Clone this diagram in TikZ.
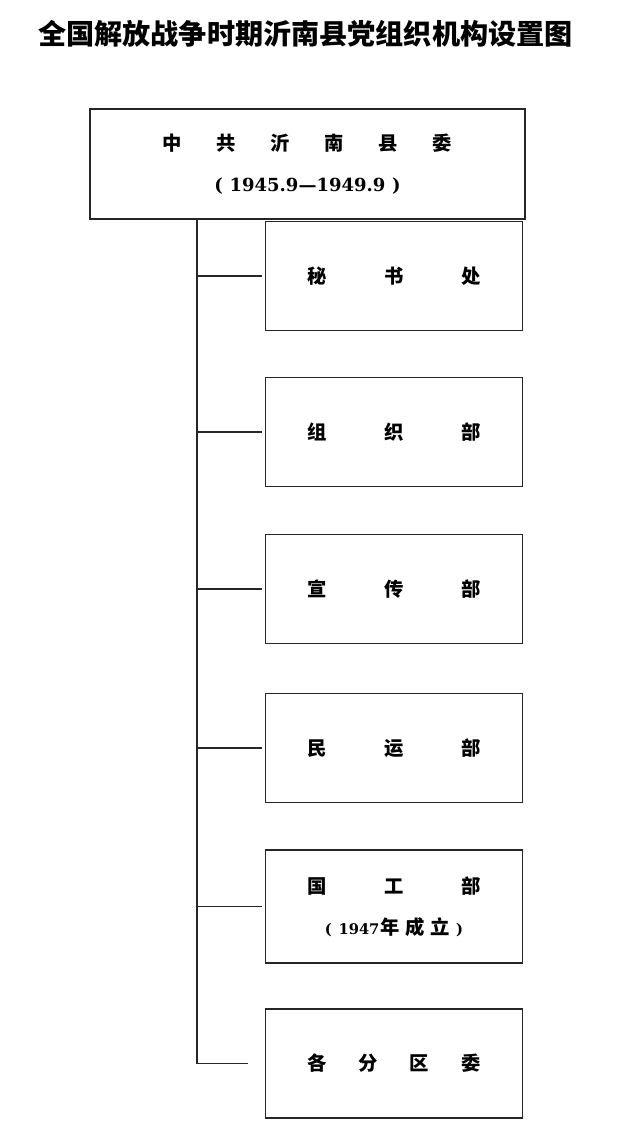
\documentclass[tikz,border=0pt]{standalone}
\usepackage{fontspec}
\setmainfont{DejaVu Serif}
\newfontfamily\cjk{Noto Sans CJK SC}
\usetikzlibrary{positioning}
\tikzset{
  unit/.style={draw=black!85, line width=0.9pt, rectangle, inner sep=0pt,
    minimum width=192.75pt, minimum height=81.75pt, align=center,
    font=\cjk\bfseries\fontsize{14.5}{17}\selectfont},
  topunit/.style={unit, minimum width=326.25pt, minimum height=82.5pt},
  heading/.style={font=\cjk\bfseries\fontsize{21.1}{25}\selectfont, inner sep=0pt},
  branch/.style={black!85, line width=0.8pt},
}
\newcommand{\numf}{\rmfamily\bfseries}
\begin{document}
\begin{tikzpicture}[x=0.75pt, y=-0.75pt]
  \useasboundingbox (0,0) rectangle (640,1141);
  \node[heading] (title) at (305.5,34) {全国解放战争时期沂南县党组织机构设置图};
  \node[topunit] (xianwei) at (307.5,164)
    {中\hspace{26pt}共\hspace{26pt}沂\hspace{26pt}南\hspace{26pt}县\hspace{26pt}委\\[14pt]
     {\numf\fontsize{13.5}{16}\selectfont (\hspace{5pt}1945.9—1949.9\hspace{5pt})}};
  \node[unit] (mishu) at (394,276) {秘\hspace{43pt}书\hspace{43pt}处};
  \node[unit] (zuzhi) at (394,432) {组\hspace{43pt}织\hspace{43pt}部};
  \node[unit] (xuanchuan) at (394,589) {宣\hspace{43pt}传\hspace{43pt}部};
  \node[unit] (minyun) at (394,748) {民\hspace{43pt}运\hspace{43pt}部};
  \node[unit, minimum height=84.75pt] (guogong) at (394,906.5)
    {国\hspace{43pt}工\hspace{43pt}部\\[14pt]
     {\numf\fontsize{11}{13}\selectfont (\hspace{5pt}1947}\hspace{1pt}年\hspace{4pt}成\hspace{4pt}立{\numf\fontsize{11}{13}\selectfont\hspace{5pt})}};
  \node[unit] (fenqu) at (394,1063.5) {各\hspace{24pt}分\hspace{24pt}区\hspace{24pt}委};
  \coordinate (spine) at (197,218);
  \draw[branch] (xianwei.south -| spine) -- (fenqu.west -| spine);
  \draw[branch, shorten >=2.25pt] (mishu.west -| spine) -- (mishu.west);
  \draw[branch, shorten >=2.25pt] (zuzhi.west -| spine) -- (zuzhi.west);
  \draw[branch, shorten >=2.25pt] (xuanchuan.west -| spine) -- (xuanchuan.west);
  \draw[branch, shorten >=2.25pt] (minyun.west -| spine) -- (minyun.west);
  \draw[branch, shorten >=2.25pt] (guogong.west -| spine) -- (guogong.west);
  \draw[branch, shorten >=12.75pt] (fenqu.west -| spine) -- (fenqu.west);
\end{tikzpicture}
\end{document}
